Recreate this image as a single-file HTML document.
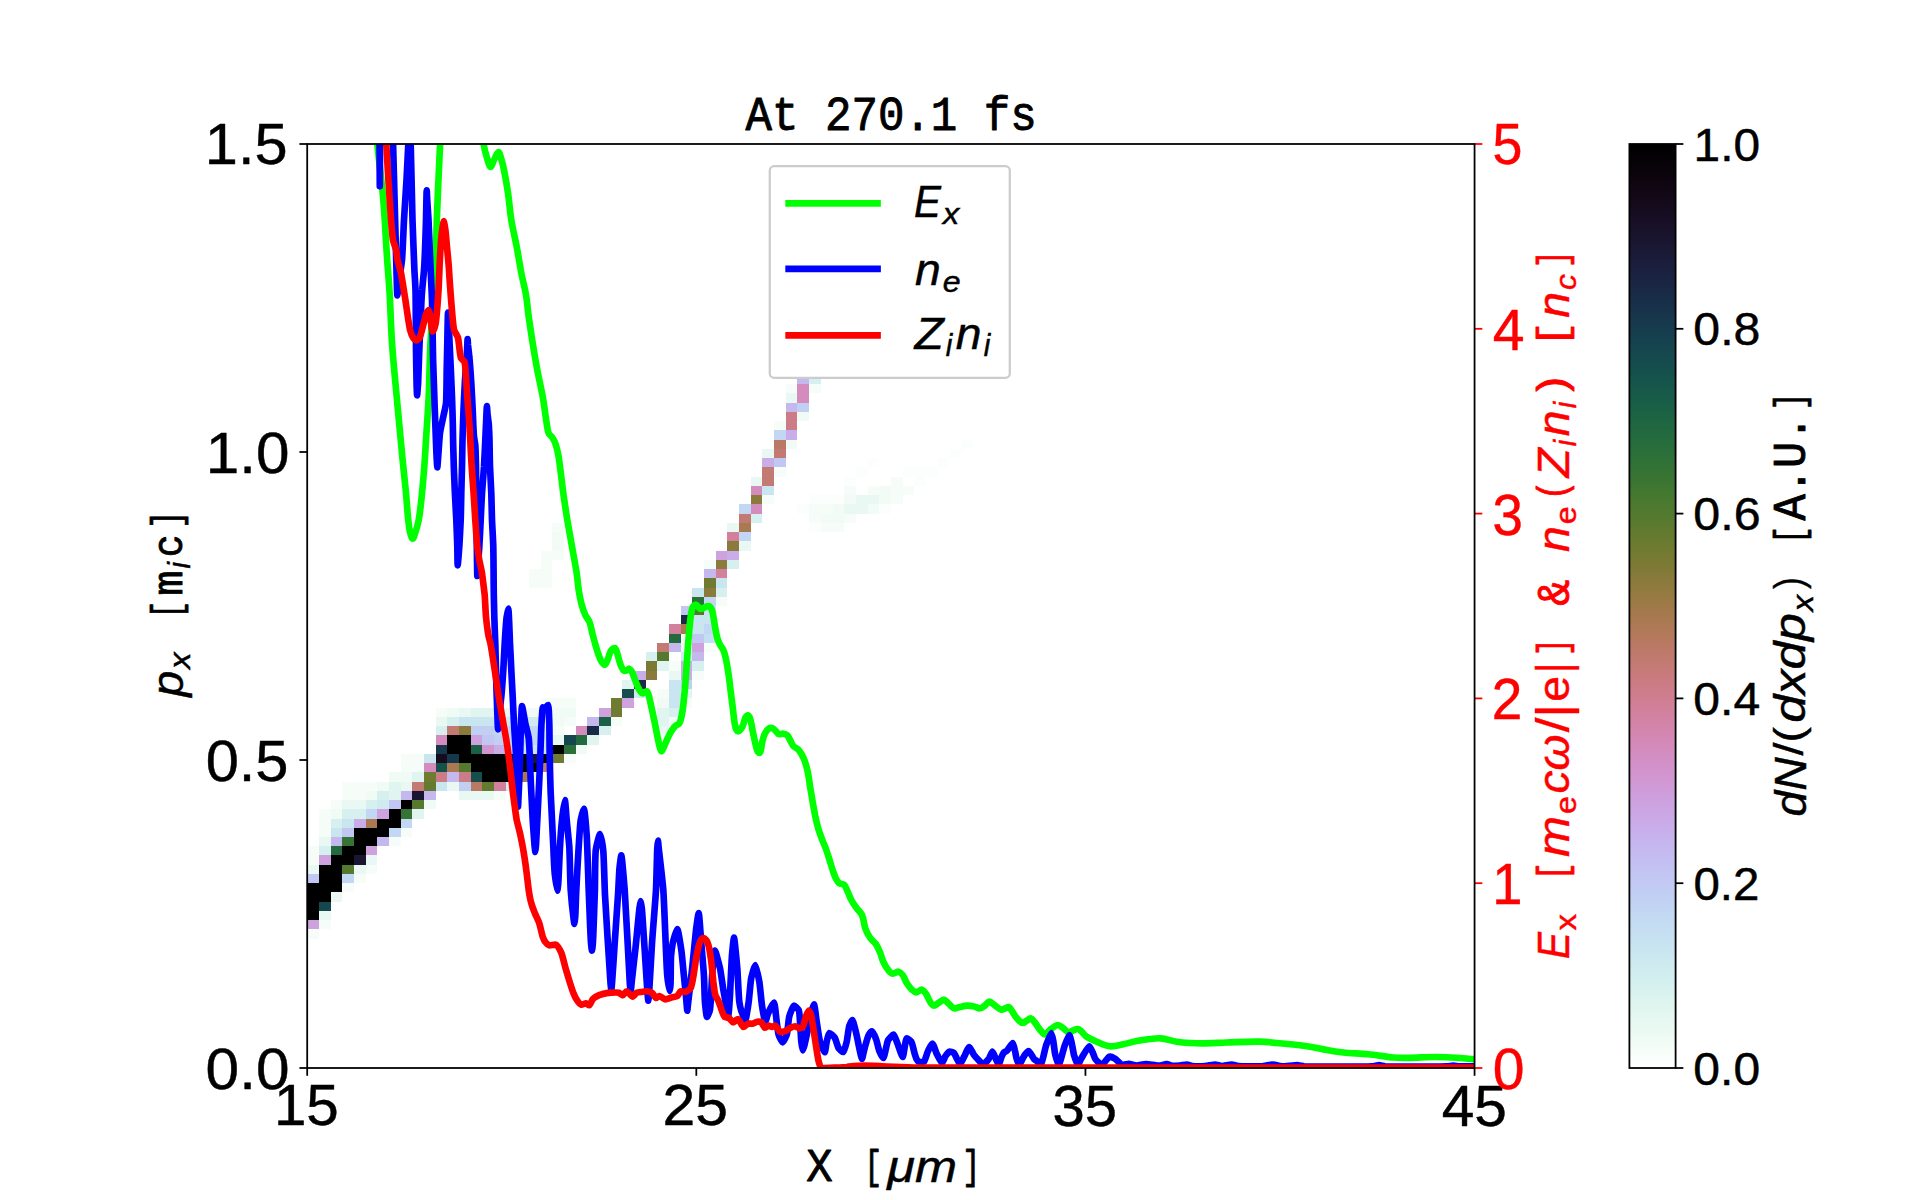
<!DOCTYPE html>
<html lang="en"><head><meta charset="utf-8"><title>At 270.1 fs</title>
<style>
html,body{margin:0;padding:0;background:#fff}
svg{display:block}
text{font-kerning:none;font-variant-ligatures:none;white-space:pre}
.sans{font-family:"Liberation Sans",sans-serif;stroke:currentColor;stroke-width:0.45px}
.sansi{font-family:"Liberation Sans",sans-serif;font-style:italic;stroke:currentColor;stroke-width:0.45px}
.mono{font-family:"Liberation Mono",monospace;stroke:currentColor;stroke-width:0.9px;stroke-linejoin:round}
</style></head>
<body>
<svg width="1920" height="1200" viewBox="0 0 1920 1200">
<defs>
<clipPath id="axclip"><rect x="307.2" y="144" width="1167.36" height="924"/></clipPath>
<linearGradient id="cbgrad" x1="0" y1="0" x2="0" y2="1"><stop offset="0" stop-color="#000000"/><stop offset="0.0156" stop-color="#050205"/><stop offset="0.0312" stop-color="#0b040c"/><stop offset="0.0469" stop-color="#100713"/><stop offset="0.0625" stop-color="#140a1b"/><stop offset="0.0781" stop-color="#170e23"/><stop offset="0.0938" stop-color="#19122b"/><stop offset="0.1094" stop-color="#1a1733"/><stop offset="0.125" stop-color="#1b1c3a"/><stop offset="0.1406" stop-color="#1a2240"/><stop offset="0.1562" stop-color="#192845"/><stop offset="0.1719" stop-color="#182f49"/><stop offset="0.1875" stop-color="#17364c"/><stop offset="0.2031" stop-color="#163d4e"/><stop offset="0.2188" stop-color="#15444f"/><stop offset="0.2344" stop-color="#154b4e"/><stop offset="0.25" stop-color="#15524c"/><stop offset="0.2656" stop-color="#17584a"/><stop offset="0.2812" stop-color="#195e47"/><stop offset="0.2969" stop-color="#1d6443"/><stop offset="0.3125" stop-color="#22693f"/><stop offset="0.3281" stop-color="#286d3b"/><stop offset="0.3438" stop-color="#2f7137"/><stop offset="0.3594" stop-color="#387434"/><stop offset="0.375" stop-color="#417731"/><stop offset="0.3906" stop-color="#4c792f"/><stop offset="0.4062" stop-color="#577a2f"/><stop offset="0.4219" stop-color="#637a2f"/><stop offset="0.4375" stop-color="#6f7b31"/><stop offset="0.4531" stop-color="#7b7a35"/><stop offset="0.4688" stop-color="#877a3a"/><stop offset="0.4844" stop-color="#937a40"/><stop offset="0.5" stop-color="#9f7948"/><stop offset="0.5156" stop-color="#a97951"/><stop offset="0.5312" stop-color="#b3795b"/><stop offset="0.5469" stop-color="#bc7967"/><stop offset="0.5625" stop-color="#c37a73"/><stop offset="0.5781" stop-color="#c97b7f"/><stop offset="0.5938" stop-color="#ce7d8c"/><stop offset="0.6094" stop-color="#d18099"/><stop offset="0.625" stop-color="#d383a6"/><stop offset="0.6406" stop-color="#d487b2"/><stop offset="0.6562" stop-color="#d48cbe"/><stop offset="0.6719" stop-color="#d391c9"/><stop offset="0.6875" stop-color="#d297d2"/><stop offset="0.7031" stop-color="#cf9ddb"/><stop offset="0.7188" stop-color="#cca4e2"/><stop offset="0.7344" stop-color="#caabe8"/><stop offset="0.75" stop-color="#c7b2ed"/><stop offset="0.7656" stop-color="#c5baf0"/><stop offset="0.7812" stop-color="#c3c1f2"/><stop offset="0.7969" stop-color="#c2c8f3"/><stop offset="0.8125" stop-color="#c1cff3"/><stop offset="0.8281" stop-color="#c2d6f3"/><stop offset="0.8438" stop-color="#c4dcf2"/><stop offset="0.8594" stop-color="#c6e1f1"/><stop offset="0.875" stop-color="#cae7f0"/><stop offset="0.8906" stop-color="#cfebef"/><stop offset="0.9062" stop-color="#d4efef"/><stop offset="0.9219" stop-color="#dbf3ef"/><stop offset="0.9375" stop-color="#e2f6f0"/><stop offset="0.9531" stop-color="#e9f8f2"/><stop offset="0.9688" stop-color="#f0fbf5"/><stop offset="0.9844" stop-color="#f8fdfa"/><stop offset="1" stop-color="#ffffff"/></linearGradient>
</defs>
<rect width="1920" height="1200" fill="#fff"/>
<g id="heatmap" shape-rendering="crispEdges">
<rect x="307" y="929" width="12" height="10" fill="#f6fcf8"/>
<rect x="307" y="920" width="12" height="9" fill="#cea1df"/>
<rect x="319" y="920" width="12" height="9" fill="#f6fcf8"/>
<rect x="307" y="911" width="12" height="9" fill="#000000"/>
<rect x="319" y="911" width="12" height="9" fill="#e9f8f2"/>
<rect x="307" y="902" width="12" height="9" fill="#000000"/>
<rect x="319" y="902" width="12" height="9" fill="#15474e"/>
<rect x="307" y="892" width="24" height="10" fill="#000000"/>
<rect x="331" y="892" width="11" height="10" fill="#e9f8f2"/>
<rect x="307" y="883" width="35" height="9" fill="#000000"/>
<rect x="342" y="883" width="12" height="9" fill="#f6fcf8"/>
<rect x="307" y="874" width="12" height="9" fill="#c2c6f3"/>
<rect x="319" y="874" width="23" height="9" fill="#000000"/>
<rect x="342" y="874" width="12" height="9" fill="#c2d7f3"/>
<rect x="354" y="874" width="12" height="9" fill="#f6fcf8"/>
<rect x="307" y="865" width="12" height="9" fill="#e9f8f2"/>
<rect x="319" y="865" width="23" height="9" fill="#000000"/>
<rect x="342" y="865" width="12" height="9" fill="#54792f"/>
<rect x="354" y="865" width="12" height="9" fill="#e9f8f2"/>
<rect x="366" y="865" width="11" height="9" fill="#f6fcf8"/>
<rect x="307" y="855" width="12" height="10" fill="#f6fcf8"/>
<rect x="319" y="855" width="12" height="10" fill="#cea1df"/>
<rect x="331" y="855" width="23" height="10" fill="#000000"/>
<rect x="354" y="855" width="12" height="10" fill="#1a1631"/>
<rect x="366" y="855" width="11" height="10" fill="#e9f8f2"/>
<rect x="307" y="846" width="12" height="9" fill="#f6fcf8"/>
<rect x="319" y="846" width="12" height="9" fill="#d6f0ef"/>
<rect x="331" y="846" width="11" height="9" fill="#236a3e"/>
<rect x="342" y="846" width="24" height="9" fill="#000000"/>
<rect x="366" y="846" width="11" height="9" fill="#cea1df"/>
<rect x="319" y="837" width="12" height="9" fill="#e9f8f2"/>
<rect x="331" y="837" width="11" height="9" fill="#c5b8ef"/>
<rect x="342" y="837" width="12" height="9" fill="#357435"/>
<rect x="354" y="837" width="23" height="9" fill="#000000"/>
<rect x="377" y="837" width="12" height="9" fill="#c5b8ef"/>
<rect x="389" y="837" width="12" height="9" fill="#f6fcf8"/>
<rect x="319" y="828" width="12" height="9" fill="#f6fcf8"/>
<rect x="331" y="828" width="11" height="9" fill="#c9e5f0"/>
<rect x="342" y="828" width="12" height="9" fill="#c2c6f3"/>
<rect x="354" y="828" width="35" height="9" fill="#000000"/>
<rect x="389" y="828" width="12" height="9" fill="#c2d7f3"/>
<rect x="401" y="828" width="11" height="9" fill="#f6fcf8"/>
<rect x="319" y="819" width="12" height="9" fill="#f6fcf8"/>
<rect x="331" y="819" width="11" height="9" fill="#d6f0ef"/>
<rect x="342" y="819" width="12" height="9" fill="#c9e5f0"/>
<rect x="354" y="819" width="12" height="9" fill="#c9ade9"/>
<rect x="366" y="819" width="11" height="9" fill="#a97951"/>
<rect x="377" y="819" width="24" height="9" fill="#000000"/>
<rect x="401" y="819" width="11" height="9" fill="#c2d7f3"/>
<rect x="319" y="809" width="12" height="10" fill="#f6fcf8"/>
<rect x="331" y="809" width="11" height="10" fill="#f0fbf5"/>
<rect x="342" y="809" width="24" height="10" fill="#d6f0ef"/>
<rect x="366" y="809" width="11" height="10" fill="#c2d7f3"/>
<rect x="377" y="809" width="12" height="10" fill="#cea1df"/>
<rect x="389" y="809" width="12" height="10" fill="#000000"/>
<rect x="401" y="809" width="11" height="10" fill="#357435"/>
<rect x="412" y="809" width="12" height="10" fill="#e0f5f0"/>
<rect x="331" y="800" width="11" height="9" fill="#f6fcf8"/>
<rect x="342" y="800" width="24" height="9" fill="#e9f8f2"/>
<rect x="366" y="800" width="11" height="9" fill="#d6f0ef"/>
<rect x="377" y="800" width="12" height="9" fill="#cfebef"/>
<rect x="389" y="800" width="12" height="9" fill="#c2c6f3"/>
<rect x="401" y="800" width="11" height="9" fill="#000000"/>
<rect x="412" y="800" width="12" height="9" fill="#54792f"/>
<rect x="424" y="800" width="12" height="9" fill="#f0fbf5"/>
<rect x="342" y="791" width="24" height="9" fill="#f6fcf8"/>
<rect x="366" y="791" width="11" height="9" fill="#f0fbf5"/>
<rect x="377" y="791" width="12" height="9" fill="#d6f0ef"/>
<rect x="389" y="791" width="12" height="9" fill="#e0f5f0"/>
<rect x="401" y="791" width="11" height="9" fill="#c5b8ef"/>
<rect x="412" y="791" width="12" height="9" fill="#1a1631"/>
<rect x="424" y="791" width="12" height="9" fill="#c5b8ef"/>
<rect x="459" y="791" width="35" height="9" fill="#e9f8f2"/>
<rect x="494" y="791" width="12" height="9" fill="#f6fcf8"/>
<rect x="342" y="782" width="35" height="9" fill="#f6fcf8"/>
<rect x="377" y="782" width="12" height="9" fill="#f0fbf5"/>
<rect x="389" y="782" width="12" height="9" fill="#e0f5f0"/>
<rect x="401" y="782" width="11" height="9" fill="#e9f8f2"/>
<rect x="412" y="782" width="12" height="9" fill="#c37a73"/>
<rect x="424" y="782" width="12" height="9" fill="#637a2f"/>
<rect x="436" y="782" width="11" height="9" fill="#c9e5f0"/>
<rect x="447" y="782" width="12" height="9" fill="#e9f8f2"/>
<rect x="459" y="782" width="12" height="9" fill="#c1cff3"/>
<rect x="471" y="782" width="11" height="9" fill="#b97964"/>
<rect x="482" y="782" width="12" height="9" fill="#637a2f"/>
<rect x="494" y="782" width="12" height="9" fill="#d2809c"/>
<rect x="506" y="782" width="11" height="9" fill="#d6f0ef"/>
<rect x="389" y="772" width="23" height="10" fill="#f0fbf5"/>
<rect x="412" y="772" width="12" height="10" fill="#e0f5f0"/>
<rect x="424" y="772" width="12" height="10" fill="#6f7b31"/>
<rect x="436" y="772" width="11" height="10" fill="#cc7c86"/>
<rect x="447" y="772" width="12" height="10" fill="#c5b8ef"/>
<rect x="459" y="772" width="12" height="10" fill="#cc7c86"/>
<rect x="471" y="772" width="11" height="10" fill="#154e4d"/>
<rect x="482" y="772" width="35" height="10" fill="#000000"/>
<rect x="517" y="772" width="12" height="10" fill="#a97951"/>
<rect x="529" y="772" width="12" height="10" fill="#e9f8f2"/>
<rect x="401" y="763" width="23" height="9" fill="#f6fcf8"/>
<rect x="424" y="763" width="12" height="9" fill="#d48cbe"/>
<rect x="436" y="763" width="11" height="9" fill="#15524c"/>
<rect x="447" y="763" width="12" height="9" fill="#a97951"/>
<rect x="459" y="763" width="12" height="9" fill="#54792f"/>
<rect x="471" y="763" width="70" height="9" fill="#000000"/>
<rect x="541" y="763" width="11" height="9" fill="#c37a73"/>
<rect x="401" y="754" width="23" height="9" fill="#f6fcf8"/>
<rect x="424" y="754" width="12" height="9" fill="#c9e5f0"/>
<rect x="436" y="754" width="11" height="9" fill="#160c1f"/>
<rect x="447" y="754" width="12" height="9" fill="#17374d"/>
<rect x="459" y="754" width="70" height="9" fill="#000000"/>
<rect x="529" y="754" width="12" height="9" fill="#1a1631"/>
<rect x="541" y="754" width="11" height="9" fill="#000000"/>
<rect x="552" y="754" width="12" height="9" fill="#6f7b31"/>
<rect x="564" y="754" width="12" height="9" fill="#f6fcf8"/>
<rect x="436" y="745" width="11" height="9" fill="#17374d"/>
<rect x="447" y="745" width="24" height="9" fill="#000000"/>
<rect x="471" y="745" width="11" height="9" fill="#1a6046"/>
<rect x="482" y="745" width="12" height="9" fill="#d295d0"/>
<rect x="494" y="745" width="12" height="9" fill="#c9ade9"/>
<rect x="506" y="745" width="11" height="9" fill="#c2c6f3"/>
<rect x="517" y="745" width="35" height="9" fill="#c9e5f0"/>
<rect x="552" y="745" width="12" height="9" fill="#000000"/>
<rect x="564" y="745" width="12" height="9" fill="#2b6f39"/>
<rect x="576" y="745" width="11" height="9" fill="#f0fbf5"/>
<rect x="436" y="735" width="11" height="10" fill="#d48cbe"/>
<rect x="447" y="735" width="24" height="10" fill="#000000"/>
<rect x="471" y="735" width="11" height="10" fill="#cea1df"/>
<rect x="482" y="735" width="12" height="10" fill="#c2c6f3"/>
<rect x="494" y="735" width="12" height="10" fill="#c1cff3"/>
<rect x="506" y="735" width="35" height="10" fill="#c2d7f3"/>
<rect x="541" y="735" width="11" height="10" fill="#c9e5f0"/>
<rect x="552" y="735" width="12" height="10" fill="#e9f8f2"/>
<rect x="564" y="735" width="12" height="10" fill="#15474e"/>
<rect x="576" y="735" width="11" height="10" fill="#236a3e"/>
<rect x="587" y="735" width="12" height="10" fill="#e0f5f0"/>
<rect x="657" y="735" width="12" height="10" fill="#f6fcf8"/>
<rect x="436" y="726" width="11" height="9" fill="#d6f0ef"/>
<rect x="447" y="726" width="12" height="9" fill="#c37a73"/>
<rect x="459" y="726" width="12" height="9" fill="#8a7a3b"/>
<rect x="471" y="726" width="23" height="9" fill="#c1cff3"/>
<rect x="494" y="726" width="47" height="9" fill="#c2d7f3"/>
<rect x="541" y="726" width="11" height="9" fill="#d6f0ef"/>
<rect x="552" y="726" width="12" height="9" fill="#f6fcf8"/>
<rect x="576" y="726" width="11" height="9" fill="#d48cbe"/>
<rect x="587" y="726" width="12" height="9" fill="#192a46"/>
<rect x="599" y="726" width="12" height="9" fill="#d6f0ef"/>
<rect x="657" y="726" width="12" height="9" fill="#e9f8f2"/>
<rect x="669" y="726" width="12" height="9" fill="#fbfefc"/>
<rect x="436" y="717" width="11" height="9" fill="#e9f8f2"/>
<rect x="447" y="717" width="12" height="9" fill="#d6f0ef"/>
<rect x="459" y="717" width="47" height="9" fill="#c9e5f0"/>
<rect x="506" y="717" width="35" height="9" fill="#cfebef"/>
<rect x="541" y="717" width="11" height="9" fill="#e9f8f2"/>
<rect x="552" y="717" width="12" height="9" fill="#f0fbf5"/>
<rect x="564" y="717" width="12" height="9" fill="#f6fcf8"/>
<rect x="587" y="717" width="12" height="9" fill="#c5b8ef"/>
<rect x="599" y="717" width="12" height="9" fill="#1a6046"/>
<rect x="611" y="717" width="11" height="9" fill="#f6fcf8"/>
<rect x="657" y="717" width="12" height="9" fill="#e0f5f0"/>
<rect x="669" y="717" width="12" height="9" fill="#f2fbf6"/>
<rect x="436" y="708" width="11" height="9" fill="#f6fcf8"/>
<rect x="447" y="708" width="12" height="9" fill="#f0fbf5"/>
<rect x="459" y="708" width="12" height="9" fill="#e9f8f2"/>
<rect x="471" y="708" width="23" height="9" fill="#e0f5f0"/>
<rect x="494" y="708" width="23" height="9" fill="#e9f8f2"/>
<rect x="517" y="708" width="59" height="9" fill="#f0fbf5"/>
<rect x="599" y="708" width="12" height="9" fill="#cea1df"/>
<rect x="611" y="708" width="11" height="9" fill="#6f7b31"/>
<rect x="657" y="708" width="12" height="9" fill="#e0f5f0"/>
<rect x="669" y="708" width="12" height="9" fill="#d6f0ef"/>
<rect x="541" y="698" width="35" height="10" fill="#f6fcf8"/>
<rect x="611" y="698" width="11" height="10" fill="#6f7b31"/>
<rect x="622" y="698" width="12" height="10" fill="#cea1df"/>
<rect x="657" y="698" width="12" height="10" fill="#f0fbf5"/>
<rect x="669" y="698" width="12" height="10" fill="#c9e5f0"/>
<rect x="681" y="698" width="11" height="10" fill="#f6fcf8"/>
<rect x="622" y="689" width="12" height="9" fill="#154e4d"/>
<rect x="634" y="689" width="12" height="9" fill="#cfebef"/>
<rect x="657" y="689" width="12" height="9" fill="#f6fcf8"/>
<rect x="669" y="689" width="12" height="9" fill="#c9e5f0"/>
<rect x="681" y="689" width="11" height="9" fill="#e0f5f0"/>
<rect x="622" y="680" width="12" height="9" fill="#e0f5f0"/>
<rect x="634" y="680" width="12" height="9" fill="#192a46"/>
<rect x="669" y="680" width="12" height="9" fill="#c9e5f0"/>
<rect x="681" y="680" width="11" height="9" fill="#c1cff3"/>
<rect x="634" y="671" width="12" height="9" fill="#c9ade9"/>
<rect x="646" y="671" width="11" height="9" fill="#8a7a3b"/>
<rect x="669" y="671" width="12" height="9" fill="#e9f8f2"/>
<rect x="681" y="671" width="11" height="9" fill="#c9ade9"/>
<rect x="692" y="671" width="12" height="9" fill="#f6fcf8"/>
<rect x="646" y="661" width="11" height="10" fill="#7b7a35"/>
<rect x="657" y="661" width="12" height="10" fill="#e0f5f0"/>
<rect x="669" y="661" width="12" height="10" fill="#f6fcf8"/>
<rect x="681" y="661" width="11" height="10" fill="#c9ade9"/>
<rect x="692" y="661" width="12" height="10" fill="#d6f0ef"/>
<rect x="646" y="652" width="11" height="9" fill="#d6f0ef"/>
<rect x="657" y="652" width="12" height="9" fill="#54792f"/>
<rect x="681" y="652" width="11" height="9" fill="#cfebef"/>
<rect x="692" y="652" width="12" height="9" fill="#c5b8ef"/>
<rect x="657" y="643" width="12" height="9" fill="#c37a73"/>
<rect x="669" y="643" width="12" height="9" fill="#c5b8ef"/>
<rect x="681" y="643" width="11" height="9" fill="#e9f8f2"/>
<rect x="692" y="643" width="12" height="9" fill="#cea1df"/>
<rect x="704" y="643" width="12" height="9" fill="#f6fcf8"/>
<rect x="669" y="634" width="12" height="9" fill="#236a3e"/>
<rect x="681" y="634" width="11" height="9" fill="#f6fcf8"/>
<rect x="692" y="634" width="12" height="9" fill="#c2c6f3"/>
<rect x="704" y="634" width="12" height="9" fill="#c5dff2"/>
<rect x="669" y="624" width="12" height="10" fill="#d2809c"/>
<rect x="681" y="624" width="11" height="10" fill="#a97951"/>
<rect x="692" y="624" width="12" height="10" fill="#c9e5f0"/>
<rect x="704" y="624" width="12" height="10" fill="#c2d7f3"/>
<rect x="681" y="615" width="11" height="9" fill="#192a46"/>
<rect x="692" y="615" width="24" height="9" fill="#c9e5f0"/>
<rect x="681" y="606" width="11" height="9" fill="#c2c6f3"/>
<rect x="692" y="606" width="12" height="9" fill="#54792f"/>
<rect x="704" y="606" width="12" height="9" fill="#c9e5f0"/>
<rect x="692" y="597" width="12" height="9" fill="#2b6f39"/>
<rect x="704" y="597" width="12" height="9" fill="#c2d7f3"/>
<rect x="716" y="597" width="11" height="9" fill="#f6fcf8"/>
<rect x="692" y="588" width="12" height="9" fill="#c9e5f0"/>
<rect x="704" y="588" width="12" height="9" fill="#8a7a3b"/>
<rect x="716" y="588" width="11" height="9" fill="#d6f0ef"/>
<rect x="529" y="578" width="23" height="10" fill="#f6fcf8"/>
<rect x="704" y="578" width="12" height="10" fill="#6f7b31"/>
<rect x="716" y="578" width="11" height="10" fill="#c9e5f0"/>
<rect x="529" y="569" width="23" height="9" fill="#f6fcf8"/>
<rect x="704" y="569" width="12" height="9" fill="#c5b8ef"/>
<rect x="716" y="569" width="11" height="9" fill="#d2809c"/>
<rect x="541" y="560" width="11" height="9" fill="#f6fcf8"/>
<rect x="704" y="560" width="12" height="9" fill="#f6fcf8"/>
<rect x="716" y="560" width="11" height="9" fill="#8a7a3b"/>
<rect x="727" y="560" width="12" height="9" fill="#d6f0ef"/>
<rect x="541" y="551" width="23" height="9" fill="#f6fcf8"/>
<rect x="716" y="551" width="11" height="9" fill="#cea1df"/>
<rect x="727" y="551" width="12" height="9" fill="#c9ade9"/>
<rect x="552" y="541" width="12" height="10" fill="#f2fbf6"/>
<rect x="727" y="541" width="12" height="10" fill="#8a7a3b"/>
<rect x="739" y="541" width="12" height="10" fill="#e9f8f2"/>
<rect x="552" y="532" width="12" height="9" fill="#f2fbf6"/>
<rect x="727" y="532" width="12" height="9" fill="#d2809c"/>
<rect x="739" y="532" width="12" height="9" fill="#c2d7f3"/>
<rect x="552" y="523" width="12" height="9" fill="#f6fcf8"/>
<rect x="727" y="523" width="12" height="9" fill="#e9f8f2"/>
<rect x="739" y="523" width="12" height="9" fill="#a97951"/>
<rect x="809" y="523" width="12" height="9" fill="#fbfefc"/>
<rect x="821" y="523" width="23" height="9" fill="#f6fcf8"/>
<rect x="739" y="514" width="12" height="9" fill="#c37a73"/>
<rect x="751" y="514" width="11" height="9" fill="#d6f0ef"/>
<rect x="809" y="514" width="12" height="9" fill="#f6fcf8"/>
<rect x="821" y="514" width="23" height="9" fill="#f2fbf6"/>
<rect x="844" y="514" width="12" height="9" fill="#f6fcf8"/>
<rect x="739" y="504" width="12" height="10" fill="#c2d7f3"/>
<rect x="751" y="504" width="11" height="10" fill="#d48cbe"/>
<rect x="797" y="504" width="12" height="10" fill="#fbfefc"/>
<rect x="809" y="504" width="24" height="10" fill="#f6fcf8"/>
<rect x="833" y="504" width="11" height="10" fill="#f2fbf6"/>
<rect x="844" y="504" width="24" height="10" fill="#e9f8f2"/>
<rect x="868" y="504" width="11" height="10" fill="#f2fbf6"/>
<rect x="879" y="504" width="12" height="10" fill="#fbfefc"/>
<rect x="751" y="495" width="11" height="9" fill="#8a7a3b"/>
<rect x="762" y="495" width="12" height="9" fill="#f6fcf8"/>
<rect x="809" y="495" width="35" height="9" fill="#fbfefc"/>
<rect x="844" y="495" width="12" height="9" fill="#f2fbf6"/>
<rect x="856" y="495" width="23" height="9" fill="#e9f8f2"/>
<rect x="879" y="495" width="12" height="9" fill="#f2fbf6"/>
<rect x="891" y="495" width="12" height="9" fill="#f6fcf8"/>
<rect x="751" y="486" width="11" height="9" fill="#d48cbe"/>
<rect x="762" y="486" width="12" height="9" fill="#c9e5f0"/>
<rect x="844" y="486" width="12" height="9" fill="#f6fcf8"/>
<rect x="868" y="486" width="11" height="9" fill="#f6fcf8"/>
<rect x="879" y="486" width="12" height="9" fill="#f2fbf6"/>
<rect x="891" y="486" width="23" height="9" fill="#f6fcf8"/>
<rect x="751" y="477" width="11" height="9" fill="#e9f8f2"/>
<rect x="762" y="477" width="12" height="9" fill="#c37a73"/>
<rect x="844" y="477" width="12" height="9" fill="#fbfefc"/>
<rect x="891" y="477" width="12" height="9" fill="#f6fcf8"/>
<rect x="914" y="477" width="12" height="9" fill="#fbfefc"/>
<rect x="762" y="467" width="12" height="10" fill="#c37a73"/>
<rect x="774" y="467" width="12" height="10" fill="#f6fcf8"/>
<rect x="856" y="467" width="12" height="10" fill="#fbfefc"/>
<rect x="903" y="467" width="35" height="10" fill="#fbfefc"/>
<rect x="762" y="458" width="12" height="9" fill="#c9ade9"/>
<rect x="774" y="458" width="12" height="9" fill="#c2c6f3"/>
<rect x="868" y="458" width="11" height="9" fill="#fbfefc"/>
<rect x="938" y="458" width="11" height="9" fill="#fbfefc"/>
<rect x="762" y="449" width="12" height="9" fill="#e9f8f2"/>
<rect x="774" y="449" width="12" height="9" fill="#c37a73"/>
<rect x="949" y="449" width="12" height="9" fill="#fbfefc"/>
<rect x="774" y="440" width="12" height="9" fill="#b97964"/>
<rect x="786" y="440" width="11" height="9" fill="#f0fbf5"/>
<rect x="961" y="440" width="12" height="9" fill="#fbfefc"/>
<rect x="774" y="430" width="12" height="10" fill="#c2d7f3"/>
<rect x="786" y="430" width="11" height="10" fill="#c9ade9"/>
<rect x="774" y="421" width="12" height="9" fill="#f6fcf8"/>
<rect x="786" y="421" width="11" height="9" fill="#cc7c86"/>
<rect x="786" y="412" width="11" height="9" fill="#cc7c86"/>
<rect x="797" y="412" width="12" height="9" fill="#f0fbf5"/>
<rect x="786" y="403" width="11" height="9" fill="#c5b8ef"/>
<rect x="797" y="403" width="12" height="9" fill="#c1cff3"/>
<rect x="786" y="393" width="11" height="10" fill="#e9f8f2"/>
<rect x="797" y="393" width="12" height="10" fill="#d48cbe"/>
<rect x="786" y="384" width="11" height="9" fill="#f6fcf8"/>
<rect x="797" y="384" width="12" height="9" fill="#d48cbe"/>
<rect x="809" y="384" width="12" height="9" fill="#f6fcf8"/>
<rect x="797" y="375" width="12" height="9" fill="#c5b8ef"/>
<rect x="809" y="375" width="12" height="9" fill="#d6f0ef"/>
</g>
<g id="axes-ticks" stroke="#000" stroke-width="1.78" fill="none">
<line x1="307.2" y1="1068" x2="307.2" y2="1075.78"/><line x1="696.32" y1="1068" x2="696.32" y2="1075.78"/><line x1="1085.44" y1="1068" x2="1085.44" y2="1075.78"/><line x1="1474.56" y1="1068" x2="1474.56" y2="1075.78"/><line x1="307.2" y1="1068" x2="299.42" y2="1068"/><line x1="307.2" y1="760" x2="299.42" y2="760"/><line x1="307.2" y1="452" x2="299.42" y2="452"/><line x1="307.2" y1="144" x2="299.42" y2="144"/>
</g>
<g id="colorbar">
<rect x="1629.4" y="144" width="46.2" height="924" fill="url(#cbgrad)"/>
<g stroke="#000" stroke-width="1.78" fill="none"><line x1="1675.6" y1="1068" x2="1683.38" y2="1068"/><line x1="1675.6" y1="883.2" x2="1683.38" y2="883.2"/><line x1="1675.6" y1="698.4" x2="1683.38" y2="698.4"/><line x1="1675.6" y1="513.6" x2="1683.38" y2="513.6"/><line x1="1675.6" y1="328.8" x2="1683.38" y2="328.8"/><line x1="1675.6" y1="144" x2="1683.38" y2="144"/><rect x="1629.4" y="144" width="46.2" height="924"/></g>
</g>
<g id="curves" clip-path="url(#axclip)" fill="none" stroke-width="6.67" stroke-linejoin="round" stroke-linecap="butt">
<path id="Ex" stroke="#0f0" d="M373.5 100C374.8 114.7 375.8 128.5 377.3 144C379 161.6 381.7 181 383.3 200C385 219.6 386 243 387.2 260C388.1 272.6 388.9 280.9 389.6 293C390.5 307.9 390.9 326 392 343C393.2 360.6 395.1 379.3 396.7 396.7C398.2 413.2 400 432.1 401.2 445C402 453.7 402.5 459.1 403.3 466.7C404.1 475.1 405.2 484.4 406 493.3C406.8 502.2 407.5 512.9 408.3 520C408.8 524.8 409.1 528.6 410 532C410.7 534.6 411.8 538.7 412.7 538.7C413.6 538.7 414.6 534.6 415.5 532C416.7 528.6 417.8 524.8 418.7 520C420.1 512.9 421.1 502.2 422 493.3C422.9 484.4 423.6 475.6 424.3 466.7C425 457.8 425.4 450 426 440C426.8 427.3 428 411.3 428.7 396.7C429.4 381.9 429.5 366.7 430.1 352C430.7 337.8 431.6 323.8 432.5 310C433.3 296.5 434.5 284.7 435.2 270C436.1 252 436.4 230.5 437.2 210C438 188.5 439.2 163.8 440.1 144C440.8 127.9 441.4 114.7 442 100 M480.5 100C481.5 114.7 482 133.5 483.6 144C484.5 150 485.7 153.9 487 158C488.1 161.4 489.5 167 490.7 167C491.8 167 492.7 162.4 494 160C495.4 157.4 497.5 151.9 498.7 152C499.7 152.1 500.3 155.8 501 158C501.8 160.6 502.5 163 503.3 166.7C504.7 173.1 506.7 184.2 508 193C509.3 201.9 509.9 211.1 511.3 220C512.8 229 515 237.8 516.7 246.7C518.4 255.5 519.7 264.6 521.3 273C522.8 280.7 524.8 287.7 526 295C527.2 302.2 527.7 309.1 528.7 316.7C529.9 325.1 531.3 334.4 532.7 343.3C534.1 352.2 535.6 361.1 537.3 370C539 378.9 541.1 387.8 542.7 396.7C544.3 405.6 545.5 416.6 546.7 423.3C547.4 427.4 547.5 430.9 548.7 433.3C549.5 435 551 435.5 552 437C553.2 438.8 554.4 440.9 555.3 443.3C556.4 446.2 557.2 449.7 558 453.3C558.9 457.4 559.3 461.5 560 466.7C561 474.1 562.1 484.4 563.3 493.3C564.5 502.2 565.9 511.1 567.3 520C568.8 528.9 570.4 537.8 572 546.7C573.6 555.6 575.5 565.4 576.7 573.3C577.6 579.5 577.9 584.8 578.7 590C579.4 594.7 580.2 599 581.3 603.3C582.4 607.4 583.8 611.7 585.3 615C586.6 617.7 588.4 619.3 589.5 622C590.9 625.4 591.5 630.1 592.5 634C593.5 637.8 594.5 641.5 595.5 645C596.4 648.2 597.3 651.2 598.3 654C599.3 656.6 600.2 659.6 601.5 661.5C602.5 662.9 603.7 664.8 604.7 664.7C605.8 664.6 606.7 661.8 607.5 660C608.5 657.9 609 654.7 610 652.7C610.7 651.2 611.6 649.8 612.5 649C613.2 648.4 614 647.8 614.7 648C615.6 648.3 616.3 650.7 617 652.5C617.9 654.8 618.5 658.2 619.3 660.7C620 663 620.6 665.2 621.5 667C622.2 668.5 623 670.2 624 670.7C624.7 671.1 625.7 670.8 626.5 670.5C627.4 670.2 628.5 668.6 629.3 668.7C630.1 668.8 630.9 670 631.5 671C632.3 672.2 632.6 673.5 633.3 675.3C634.5 678.3 636.6 684.4 638 687.3C638.9 689.1 639.6 690.4 640.5 691.5C641.2 692.3 641.9 693.2 642.7 693.3C643.4 693.4 644.3 692.3 645 692C645.6 691.7 646.2 691.1 646.7 691.3C647.4 691.5 648 693.2 648.5 694.5C649.2 696.2 649.4 698.1 650 700.7C651 705.2 652.7 713 654 719.3C655.4 725.8 656.9 734 658 739.3C658.8 742.8 659.3 745.8 660 748C660.5 749.4 660.9 751.3 661.5 751.3C662.1 751.3 662.8 749.3 663.5 748C664.4 746.3 665 744.3 666 742C667.4 738.9 669.5 734.2 671.3 731.3C672.6 729.2 673.8 727.4 675.3 726C676.5 724.8 678.3 724.7 679.3 723.3C680.8 721.3 681.2 717.8 682 714C683.2 708.1 683.9 699.2 684.7 691.3C685.5 682.8 686 673.7 686.7 664.7C687.4 655.5 688 645.2 688.7 636.7C689.3 629.5 689.9 622.1 690.7 616.7C691.3 613 691.6 609.4 692.7 607.3C693.4 606 694.4 604.8 695.3 604.7C696.2 604.6 697.2 605.8 698 606.5C698.8 607.2 699.2 608.4 700 608.7C700.7 609 701.7 608.7 702.5 608.5C703.3 608.3 703.8 607.7 704.7 607.3C705.8 606.8 707.6 605.8 708.7 606C709.6 606.2 710.4 607.1 711 608C711.7 609 712 610.3 712.5 612C713.3 615 713.9 620.4 714.7 624.7C715.5 629.1 716.2 634.4 717.3 638C718.1 640.7 719 642.6 720 644.7C721 646.6 722.4 647.9 723.3 650C724.5 652.6 725.2 655.8 726 659.3C727 663.9 727.9 670 728.7 675.3C729.5 680.6 730 686 730.7 691.3C731.4 696.6 732 702 732.7 707.3C733.4 712.6 733.9 719.2 734.7 723.3C735.2 725.9 735.5 728.1 736.3 729.5C736.8 730.4 737.3 731.2 738 731.3C738.7 731.4 739.8 730.3 740.5 729.5C741.4 728.6 742 727.5 742.7 726C743.7 723.9 744.4 719.8 745.3 718C745.8 717 746.3 716.2 746.8 715.8C747.2 715.5 747.6 715.2 748 715.3C748.5 715.4 749.1 716.3 749.5 717C750 718 750.3 719.1 750.7 720.7C751.5 723.7 752.3 729.5 753.3 734C754.3 738.8 755.7 745.6 756.7 748.7C757.2 750.2 757.4 751.3 758 752C758.4 752.5 758.9 753.1 759.3 753C759.8 752.9 760.4 751.6 760.8 750.5C761.4 748.8 761.4 745.8 762 743.3C762.7 740.4 763.4 736.6 764.7 734C765.8 731.9 767.2 729.6 768.7 728.7C769.7 728 770.9 727.7 772 728C773.4 728.3 774.8 730.2 776 731.3C777 732.2 777.6 733.6 778.7 734C779.9 734.5 781.8 733.5 783.3 733.7C784.7 733.9 786.2 734.4 787.3 735.3C788.5 736.4 789.1 738.3 790 740C791.1 741.9 791.8 744.3 793.3 746C794.7 747.7 797.1 748.2 798.7 750C800.7 752.2 802.4 755.5 803.8 758.7C805.4 762.3 806.5 766.4 807.5 770.7C808.7 775.6 809.2 781.4 810.1 786.7C811 792 811.9 797.5 812.8 802.7C813.7 807.7 814.5 812.8 815.5 817.3C816.3 821.2 817.1 824.5 818.1 828C819.2 831.6 820.5 835.3 821.8 838.7C823 841.9 824.4 844.9 825.6 848C826.7 851.1 827.7 854.1 828.7 857.3C829.8 860.7 830.9 864.6 832 868C833.1 871.2 834 874.6 835.3 877.3C836.5 879.6 837.7 882.1 839.3 883.3C840.7 884.3 842.7 883.7 844 884.7C845.5 885.9 846.2 888.5 847.3 890.7C848.6 893.4 849.7 897.1 851.3 900C852.8 902.8 854.7 905.5 856.5 908C858.3 910.5 860.6 912.1 862 915C863.8 918.6 863.8 924.3 865.3 928.3C866.6 931.8 868.1 935 870 937.7C871.7 940.2 874.3 941.9 876 944.3C877.7 946.7 878.8 949.5 880 952.3C881.3 955.3 881.9 958.8 883.3 961.7C884.6 964.5 886.2 967.6 888 969.7C889.4 971.4 890.9 973.4 892.7 973.7C894.5 974 897 971.4 898.7 971.7C900.3 972 901.5 973.5 902.7 975C904.3 977 905.1 980.5 906.7 983C908.2 985.4 910.2 988.1 912 989.7C913.3 990.9 914.5 992.2 916 992.3C917.8 992.4 920.3 989.4 922 989.7C923.6 990 924.8 992.1 926 993.7C927.3 995.5 928.2 998.4 929.3 1000.3C930.2 1001.9 931.1 1003.6 932 1004.5C932.6 1005.1 933.2 1005.7 934 1005.7C935.2 1005.7 936.9 1003.9 938.5 1003C940.2 1002 942.3 999.6 944 999.7C945.8 999.9 947.3 1002.6 949 1004C950.7 1005.4 952.1 1007.8 954 1008.3C955.8 1008.8 957.9 1007.4 960 1007C962.3 1006.5 964.9 1005.8 967.3 1005.7C969.6 1005.6 971.8 1006.1 974 1006.5C976.1 1006.9 978.1 1008.5 980 1008.3C981.8 1008.1 983.5 1006.6 985 1005.5C986.6 1004.4 987.7 1001.8 989.3 1001.7C991 1001.6 993.1 1004.2 995 1005.5C997 1006.9 999.4 1009.4 1001.3 1009.7C1002.6 1009.9 1003.8 1008.9 1005 1008.5C1006.2 1008 1007.6 1006.7 1008.7 1007C1010 1007.3 1010.9 1009.5 1012 1011C1013.2 1012.6 1014.1 1014.7 1015.3 1016.3C1016.4 1017.8 1017.7 1019.3 1019 1020.5C1020.2 1021.5 1021.4 1023 1022.7 1023C1024.1 1023 1025.6 1021.3 1027 1020.5C1028.3 1019.7 1029.5 1018.2 1030.7 1018.3C1032 1018.5 1033.3 1020.6 1034.5 1022C1035.8 1023.5 1036.8 1025.4 1038 1027C1039.1 1028.6 1040.3 1030.2 1041.5 1031.5C1042.5 1032.6 1043.4 1034.3 1044.7 1034.3C1046.4 1034.3 1048.8 1030.6 1051 1029C1053.2 1027.5 1055.9 1025 1058 1025C1059.8 1025 1061.3 1026.9 1063 1028C1064.9 1029.3 1066.9 1032.1 1068.7 1032.3C1070.2 1032.5 1071.5 1031 1073 1030.5C1074.6 1029.9 1076.5 1028.7 1078 1029C1079.5 1029.3 1080.7 1030.8 1082 1032C1083.4 1033.3 1084.2 1034.9 1086 1036.3C1088.6 1038.2 1092.9 1040.1 1096.7 1041.7C1100.8 1043.5 1105.5 1045.9 1110 1046.3C1114.4 1046.7 1118.9 1045.2 1123.3 1044.3C1127.8 1043.4 1132.2 1041.9 1136.7 1041C1141.1 1040.1 1145.8 1039.5 1150 1039C1153.8 1038.6 1156.8 1038 1160.7 1038.3C1165.5 1038.6 1171.6 1040.9 1176.7 1041.7C1181.3 1042.4 1185.7 1042.7 1190 1043C1194 1043.2 1197.1 1043.3 1201.7 1043.3C1208.5 1043.3 1217.8 1042.8 1226.7 1042.5C1237 1042.2 1249.7 1041.4 1260 1041.7C1268.9 1042 1276.7 1043 1285 1043.8C1293.3 1044.6 1302.5 1045.5 1310 1046.7C1316.1 1047.7 1321.1 1049 1326.7 1050C1332.2 1051 1337.2 1051.8 1343.3 1052.5C1350.8 1053.3 1360 1053.4 1368.3 1054.2C1376.6 1055 1385.8 1056.9 1393.3 1057.5C1399.4 1058 1403.9 1057.8 1410 1057.8C1417.5 1057.7 1426.7 1057 1435 1057C1443.3 1057 1453 1057.5 1460 1058C1465.1 1058.3 1469.3 1058.9 1473.3 1059.2C1476.5 1059.4 1479.1 1059.5 1482 1059.6"/>
<path id="ne" stroke="#00f" d="M379.3 100 L379.8 186.2 L380.3 100 M391.9 100C392.1 108.1 392.8 133.8 393.1 144C393.6 161.6 396.2 261.4 396.6 275C396.8 280.3 397.1 295.3 397.3 295.3C397.5 295.3 398.2 287.3 398.5 285C399 281.4 401.5 265.1 402 260C402.6 253.5 403.6 227.3 404 220C404.4 212.7 406.1 187.1 406.5 180C406.9 173.2 408 149.8 408.3 144C408.5 139.5 409.3 122 409.5 122C409.7 122 410.5 138.8 410.7 144C411.1 153.7 412.1 207.5 412.5 220C412.8 230.1 414.1 262.9 414.4 270C414.6 274.5 415.4 285.3 415.5 290C415.8 298.1 415.9 340.5 416 350C416.1 357.3 416.5 380.5 416.6 385C416.7 387.4 417 395.3 417.1 395.3C417.2 395.3 417.8 387.5 418 385C418.3 380.5 419 357 419.3 350C419.6 341.6 421.2 305.7 421.5 300C421.6 297.5 422 292.1 422.2 290C422.4 287 423.7 274.5 424 270C424.5 262.9 425.8 227.1 426 220C426.1 215.5 426.3 203 426.4 200C426.5 197.9 426.6 190.3 426.7 190.3C426.8 190.3 427.1 197.9 427.2 200C427.4 203 428.3 215.7 428.5 220C428.8 226.1 429.9 252.7 430.2 260C430.5 267.3 431.7 291.9 432 300C432.3 309.9 432.8 347.9 433.1 360C433.5 374.8 435.8 439.9 436.3 450C436.5 454.4 437.1 467.3 437.3 467.3C437.5 467.3 438.1 457.6 438.3 455C438.6 451.5 439.5 436.7 440 433C440.4 429.8 442.7 419.5 443.3 416.7C443.8 414.1 445.7 406.3 446 403.3C446.5 398.6 446.6 375.8 446.7 370C446.8 364.8 447.2 347.9 447.3 343.3C447.4 339.2 447.6 325.1 447.7 322C447.8 319.9 447.9 312.7 448 312.7C448.1 312.7 448.3 319.9 448.4 322C448.6 325.1 449.4 338.5 449.6 343.3C450 350.9 451.7 388.6 452 396.7C452.2 402.4 452.7 418.7 452.8 423.3C452.9 427.5 453.1 441 453.2 445C453.3 449 453.7 462.5 453.8 466.7C454 471.3 454.7 488.4 454.9 493.3C455.1 498.2 456.1 515.1 456.3 520C456.5 524.9 457.2 542.2 457.3 546.7C457.4 550.4 457.5 565.3 457.7 565.3C457.9 565.3 459 550.4 459.3 546.7C459.6 542.2 460.5 524.9 460.7 520C460.9 515.1 461.2 498.2 461.3 493.3C461.4 488.4 461.9 471.6 462 466.7C462.1 461.8 462.4 445 462.5 440C462.6 434.7 463.3 415.5 463.5 410C463.7 404.5 464.7 385.2 465 380C465.3 375.5 466.5 360.2 466.7 356.7C466.9 354.2 467.2 346.8 467.3 345C467.4 343.8 467.5 339.2 467.6 339.2C467.7 339.2 467.9 343.8 468 345C468.2 346.8 469.1 354.1 469.3 356.7C469.7 360.6 471 378.4 471.3 383.3C471.6 388.2 472.5 405.1 472.7 410C472.9 414.9 473.6 433.2 474 436.7C474.2 438.7 475.1 443.1 475.3 445C475.6 448 475.9 461.8 476 466.7C476.2 474.3 476.4 510.9 476.5 520C476.6 527.9 476.9 554.3 477 560C477.1 563.6 477.2 576 477.3 576C477.4 576 477.8 567.3 477.9 565C478.1 562.1 479.1 550.4 479.3 546.7C479.6 542.3 480.5 524.9 480.7 520C480.9 515.1 481.7 498.2 482 493.3C482.3 488.4 483.7 471.6 484 466.7C484.3 461.8 485.1 444.5 485.3 440C485.5 436.1 486 423.3 486.2 420C486.3 417.2 486.8 406 486.9 406C487 406 487.4 413.4 487.6 415C487.8 416.6 488.5 421.5 488.7 423.3C488.9 425.8 489.4 436.6 489.5 440C489.6 444.3 489.8 461.8 490 466.7C490.2 471.6 491.1 488.4 491.3 493.3C491.5 498.2 491.8 515.1 492 520C492.2 524.9 493.2 541.8 493.3 546.7C493.4 551.6 493.6 568.7 493.6 573.3C493.6 577.5 493.7 591 493.8 595C493.9 599 494.2 612.5 494.3 616.7C494.4 621.3 495.1 637.7 495.3 643.3C495.5 650.7 496.3 682.4 496.5 690C496.7 696.1 497.4 716.1 497.6 720C497.7 722.2 497.9 729.3 498 729.3C498.1 729.3 498.4 722.1 498.6 720C498.9 716.7 500.9 701.1 501.3 696.7C501.8 692 503 674.9 503.3 670C503.6 665.1 504.4 648.2 504.7 643.3C505 638.4 506.2 620.1 506.7 616.7C507 614.8 508.1 608.7 508.3 608.7C508.8 608.7 509.7 637.4 510 643.3C510.3 648.5 511.1 665.1 511.3 670C511.5 674.9 512.5 691.8 512.7 696.7C512.9 701.6 513.7 718.8 514 723.3C514.2 727.2 515.1 739.5 515.3 743.3C515.6 747.4 516.5 762.1 516.7 766.7C516.9 771.9 517.5 793 517.6 797C517.7 799.3 517.9 806.7 518 806.7C518.1 806.7 518.4 799 518.5 797C518.6 794.3 519.2 783.6 519.3 780C519.5 775.3 520.1 755.2 520.3 750C520.4 745.2 520.8 729.3 521 725C521.2 721.3 521.6 706 522 706C522.4 706 524.7 720.3 525.3 723.3C525.9 726.1 528.2 734.6 528.7 738C529.5 743.7 530.3 772.4 530.7 780C531.1 787.4 532.3 813.5 532.7 820C533 825.1 534.2 841.8 534.5 845C534.7 846.7 535.2 852 535.3 852C535.4 852 535.9 846.7 536 845C536.2 841.8 537 825.1 537.3 820C537.6 813.5 539 786.8 539.3 780C539.6 774.1 540.3 755.3 540.5 750C540.7 745 541.2 727.6 541.5 723.3C541.7 720 542.4 707.4 542.9 707.3C543.1 707.3 543.7 709 544 709C544.5 709.1 547.5 704.8 548 705C548.9 705.3 549.1 719.6 549.3 723.3C549.5 727.7 549.5 745.5 549.6 750C549.7 753.9 549.9 766.2 550 770C550.1 774.1 550.5 788.9 550.7 793.3C550.9 798 551.8 815.1 552 820C552.2 824.9 553.1 841.8 553.3 846.7C553.5 851.6 554.3 868.9 554.7 873.3C555.1 876.8 557 890.7 557.3 890.7C557.5 890.7 558 885.7 558.2 884C558.6 879.9 559.6 853 560 846.7C560.3 841.4 561.5 824.5 562 820C562.4 816.1 564.5 800.2 564.9 800.2C565.3 800.2 566.3 816.1 566.7 820C567.1 824.5 568.9 841.2 569.3 846.7C569.8 853.7 570.2 882.9 570.7 890C571.1 895.7 573.1 914.8 573.5 918C573.7 919.5 574.2 924 574.4 924C574.6 924 575.1 918.7 575.2 917C575.5 913.7 576 895.5 576.3 890C576.6 883 578.2 853.7 578.7 846.7C579.1 841.2 580 823.8 580.7 820C581.2 817.5 583.5 808.7 584 808.7C584.7 808.8 586.3 829.3 586.7 835C587.3 843.2 588.3 880 588.7 890C589.1 899.8 590.5 937.6 591 943C591.2 945 591.8 950.7 592 950.7C592.2 950.7 592.7 945 592.9 943C593.3 937.6 594.6 899 594.9 890C595.1 882.2 595 855.6 595.8 850C596.3 846.4 599.3 834 600 834C600.7 834 602.8 846.3 603.2 850C603.9 856.1 604.5 885.4 605 895C605.7 908.5 609.9 975.9 610.5 983C610.7 985 611.2 990 611.3 990C611.5 990 611.9 984 612.1 982C612.5 977.6 614.2 950.8 614.7 943.3C615.3 934.9 617.5 902.6 618 895C618.4 889.3 619.1 872 619.5 868C619.8 865.2 621 855.3 621.3 855.3C621.9 855.3 624.1 882.1 624.7 890C625.7 902.9 629.2 975.3 629.8 983C630 985.3 630.5 991 630.7 991C630.9 991 631.4 985 631.6 983C632 979 634.6 956.4 635.3 950C636.1 942.8 638.9 912.5 639.5 908C639.7 906.2 640.5 901 640.7 901C640.9 901 641.6 906 641.8 908C642.6 914.9 646.9 985.8 647.5 993C647.7 995.2 648.2 1000.7 648.3 1000.7C648.4 1000.7 648.9 995 649.1 993C649.5 987.9 651.4 952.6 652 943.3C652.6 933.7 655.5 899.2 656 890C656.4 881.8 657 852.5 657.3 848C657.4 846.1 657.9 840.7 658 840.7C658.1 840.7 658.5 846.1 658.7 848C659.2 852.5 662.6 880.9 663.3 890C664.3 902.9 666.3 965.6 667.2 975C667.6 979.1 669.2 991 669.5 991C669.7 991 670.4 986.5 670.5 985C670.8 981.7 670.7 960.9 671 956.7C671.2 953.8 672.2 945.8 672.7 943.3C673.3 940.7 676.6 929 677.3 929C678.2 929.1 680.7 945.9 681.3 950C682 954.6 683.5 972.2 684 976.7C684.4 980.6 685.7 993.4 686 996.7C686.3 999.5 687.1 1010.7 687.3 1010.7C687.4 1010.7 687.8 1005.7 688 1004C688.4 1000.2 691.3 976.5 692 970C692.8 963 695.3 935.8 696 930C696.5 926.2 698.3 913 698.7 913C699.3 913 700.8 937.6 701.3 943.3C701.8 949.3 703.7 970.9 704 976.7C704.3 981.8 704.6 998.9 705 1003C705.3 1006 706.4 1016.9 707 1017C707.4 1017.1 709.5 1011.9 709.9 1010C710.9 1005.7 711.9 976 712.5 970C712.9 965.8 714.2 950.6 714.9 950.5C715.6 950.4 719.2 964.9 720 968.3C720.8 972 722.7 985.9 723.3 989.7C723.9 993.2 726.2 1005.5 726.7 1008.3C727 1010.3 727.8 1017.7 728 1017.7C728.2 1017.7 728.8 1011.6 729 1010C729.2 1007.7 729.8 998.4 730 995C730.3 989.4 731.5 960.8 732 955C732.3 951.2 733.6 937.7 734 937.7C734.5 937.7 736.8 962.6 737.3 968.3C737.8 974.3 738.7 997.5 739.3 1001.7C739.6 1003.9 740.8 1009.3 741.3 1011C741.9 1012.7 744.7 1020.4 745.3 1020.3C746.1 1020.2 748.2 1005.3 748.7 1001.7C749.3 997.6 750.5 981.4 751.3 977.7C751.9 975 754.6 965 755.3 965C756.1 965 758.7 978.3 759.3 981.7C760 985.7 761.4 1001.8 762 1005.7C762.5 1008.9 764.6 1021.7 765.3 1021.7C765.8 1021.7 767.3 1015.3 768 1013.7C768.8 1011.8 773.2 1002.5 774 1002.6C775 1002.8 776.2 1018.5 776.7 1021.7C777.1 1024.4 778 1033 778.7 1035C779.2 1036.6 782 1042.3 782.7 1042.3C783.4 1042.3 786.1 1036.7 786.7 1035C787.6 1032.4 788.5 1019.2 789.3 1016.3C789.9 1014 793 1005.9 794 1005.7C794.8 1005.5 798.1 1008.9 798.7 1010C799.5 1011.5 799.8 1019.3 800 1021.7C800.3 1024.9 801 1038.8 801.3 1041.7C801.5 1043.6 802.4 1050.3 802.7 1050.3C803 1050.3 804.2 1046.1 804.5 1045C804.9 1043.5 806.2 1037.2 806.7 1035C807.3 1032 809.9 1018.1 810.7 1015C811.3 1012.7 813.5 1004.3 814 1004.3C814.6 1004.3 816.2 1018.4 816.7 1021.7C817.3 1025.2 819.1 1038.7 820 1041.7C820.7 1044 824.1 1052.4 824.7 1052.3C825.3 1052.2 826.3 1043.5 826.7 1041.7C827.1 1040 828.5 1033.2 829.3 1033C830 1032.8 833.9 1036.5 834.7 1037.7C835.7 1039.2 837.7 1046.9 838.7 1048.3C839.4 1049.3 842.6 1052.2 843.3 1052C844.2 1051.7 846.2 1043.8 846.7 1041.7C847.3 1039.1 848.6 1027.8 849.3 1025.7C849.8 1024.3 851.9 1019.9 852.4 1020C853.1 1020.1 855.4 1029.9 856 1032.3C856.7 1035 858.7 1045.7 859.3 1048.3C859.8 1050.5 861.6 1059 862 1059C862.3 1059 863.2 1054.2 863.5 1053C863.8 1051.7 864.9 1047.2 865.3 1045.7C865.8 1043.9 867.9 1036.4 868.7 1035C869.2 1034.1 871.4 1031.2 872 1031.3C872.8 1031.4 875.4 1037.4 876 1039C876.8 1040.9 878.5 1049.1 879.3 1051C879.9 1052.5 882.7 1058.1 883.3 1058C884 1057.9 885.6 1050 886 1048.3C886.4 1046.8 887.3 1041.6 888 1040.3C888.7 1039.1 892.8 1034.4 893.6 1034.6C894.5 1034.8 896.6 1041.3 897.3 1043C898.2 1045.2 901.9 1057.1 902.7 1057C903.6 1056.9 905.4 1038.8 906.7 1038.3C907.4 1038 910.6 1040.7 911.3 1041.7C912.3 1043.1 914.1 1051.9 914.7 1053.7C915.1 1055 916.3 1058.7 916.8 1059.5C917.1 1060 918.2 1061.5 918.7 1061.7C919.4 1062 923.2 1062.2 924 1061.7C925.1 1060.9 927.1 1052.7 928 1051C928.7 1049.5 931.7 1043.6 932.5 1043.7C933.4 1043.8 935.8 1051.9 936.7 1053.7C937.6 1055.5 941.1 1063 942 1063C942.7 1063 944.8 1057.1 945.5 1056C946.1 1055.1 948.5 1051.9 949.3 1051.7C950.1 1051.5 953.3 1052.4 954 1053C954.8 1053.7 956.4 1058 957 1059C957.5 1060 959.4 1064 960 1064C960.7 1064 963.2 1058.4 964 1057C964.9 1055.3 968.3 1047 969.3 1047C970.2 1047 972.9 1053.6 974 1055C975.3 1056.7 981.8 1064 983.3 1064C984.4 1064 987.9 1060.1 988.7 1059C989.6 1057.9 991.8 1051.7 992.4 1051.7C993 1051.7 994.9 1056.8 995.5 1058C996.1 1059.2 998.2 1064.5 998.7 1064.5C999.3 1064.5 1001 1058.2 1001.5 1057C1001.9 1056 1003.4 1052.9 1004 1052.3C1004.4 1051.9 1006.2 1051.4 1006.7 1051C1007.7 1050.2 1012 1042.9 1012.7 1043C1013.3 1043.1 1014.5 1048.6 1014.8 1050C1015.2 1051.5 1016.2 1057.5 1016.7 1059C1017.1 1060.2 1018.8 1065 1019.3 1065C1019.8 1065 1021.5 1060.9 1022 1060C1022.5 1059.1 1024.1 1055.8 1024.7 1055C1025.3 1054.2 1028 1050.9 1028.7 1051C1029.7 1051.1 1033.1 1058.1 1034 1059C1034.5 1059.6 1036.2 1060.5 1036.7 1061C1037.4 1061.6 1040.1 1065.1 1040.7 1065C1041.3 1064.8 1042.6 1059.5 1043 1058C1043.6 1056.1 1045.3 1047.9 1046 1045.7C1046.8 1043.4 1050.6 1032.9 1051.3 1033C1051.8 1033 1053 1039.3 1053.3 1041C1053.7 1043.2 1054.7 1052.7 1055.3 1055C1055.8 1057 1058.1 1065 1058.7 1065C1059.2 1065 1061 1058.6 1061.5 1057C1062.1 1055.1 1064 1047.7 1064.7 1045.7C1065.4 1043.7 1068.6 1035 1069.3 1035C1069.8 1035 1071.1 1040.5 1071.5 1042C1072 1044 1073.4 1052.8 1074 1055C1074.6 1057 1077.3 1065 1078 1065C1078.5 1065 1080 1060.9 1080.5 1060C1081 1059.1 1082.7 1056 1083.3 1055C1084.2 1053.6 1088.4 1046.3 1089.3 1046.3C1090 1046.3 1092 1050.9 1092.5 1052C1093.1 1053.2 1094.5 1057.8 1095.3 1059C1096.2 1060.3 1100.8 1065.1 1102 1065C1103.3 1064.9 1107.9 1057.2 1109.3 1056.8C1110.3 1056.5 1113.7 1057.9 1114.7 1058.5C1116 1059.2 1120.6 1064.4 1122 1064.8C1123.2 1065.1 1127.4 1063.8 1128.7 1063.8C1130.1 1063.8 1135.2 1065.5 1136.7 1065.5C1138.3 1065.5 1144.1 1064 1146 1064C1148.2 1064 1157.2 1065.8 1159.3 1065.7C1160.9 1065.6 1165.5 1064 1166.7 1064.1C1167.8 1064.2 1170.9 1065.7 1172 1065.8C1173.3 1066 1178.6 1065.6 1180 1065.5C1181.3 1065.4 1185.6 1064.4 1186.7 1064.5C1187.7 1064.6 1190.8 1065.8 1192 1066C1193.8 1066.3 1202.8 1066.3 1205 1066.1C1207 1066 1213.3 1064.5 1215 1064.5C1216.4 1064.5 1220.6 1066 1222 1066C1223.6 1066 1230.1 1064.4 1231.7 1064.5C1233 1064.6 1236.5 1065.9 1238 1066.1C1241 1066.5 1258.8 1066.5 1262 1066.2C1263.9 1066 1268.7 1064.9 1270 1064.8C1271 1064.7 1274 1064.7 1275 1064.8C1276.1 1064.9 1279.6 1066.1 1281 1066.2C1283.3 1066.4 1296 1065 1298.3 1065.2C1299.6 1065.3 1302.4 1066.1 1304 1066.3C1309.6 1066.8 1365.9 1066.8 1372 1066.3C1374 1066.1 1378 1065.1 1379.2 1065.1C1380.3 1065.1 1383.4 1066.1 1385 1066.3C1390.3 1066.8 1441.5 1066.6 1447 1066.3C1448.8 1066.2 1452.2 1065.7 1453.3 1065.7C1454.4 1065.7 1457.6 1066.2 1459 1066.3C1461.8 1066.4 1477.8 1066.3 1482 1066.3"/>
<path id="Zini" stroke="#f00" d="M384.5 100C384.9 108.8 385.8 134.7 386.3 144C386.8 154.5 389 189.7 389.7 200C390.3 208.7 391.9 234.7 393 240C393.5 242.7 395.7 248 396.2 250C396.6 252 397.1 257.9 397.5 260C398 262.4 400.3 269.9 401 273C401.9 277.4 404.5 294.5 405.4 300C406.3 305.8 409 326 410.1 330C410.6 332 412.2 336.4 413 337.5C413.6 338.3 415.6 340.5 416.3 340.5C416.9 340.5 419 338.8 419.5 338C420.2 336.9 421.5 331.7 422 330C422.5 328.1 424 321.8 424.5 320C424.9 318.5 426 314.1 426.5 313C426.9 312.3 428.2 310 428.6 310.1C429.1 310.2 430.2 316.2 430.5 318C430.9 320.3 431.8 331.4 432.4 331.5C432.7 331.6 434.2 328.8 434.5 328C434.9 327 435.6 323.9 435.8 322.5C436.2 320.2 437 310.8 437.3 307.5C437.6 303.5 438.6 289.4 438.8 285C439 280.9 439.4 269 439.6 265C439.8 261 440.5 248.7 440.8 245C441 241.8 441.8 232.6 442.2 230C442.5 228 443.5 221.2 443.8 221.2C444.1 221.2 445.1 228 445.4 230C445.8 232.6 446.5 241.9 446.8 245C447.1 248.3 448.1 258.6 448.4 262C448.7 265.2 449.3 274.5 449.5 278C449.8 282.1 450.7 295.3 451.1 300C451.6 305.5 453 326.1 454.1 330C454.7 332.1 457.3 335.6 457.9 337.5C458.9 340.5 459.8 355.6 460.9 358C461.5 359.2 464 361 464.5 362C465.1 363.3 465.3 367.9 465.5 370C465.9 373.8 466.9 391.4 467.3 396.7C467.7 402 469 418.2 469.3 423.3C469.6 427.9 470.3 440.7 470.5 445C470.7 449.3 471.4 462.1 471.7 466.7C472 471.8 473.2 488 473.6 493.3C474 498.6 474.9 514.7 475.3 520C475.7 525.3 476.8 542.3 477.3 546.7C477.7 549.8 478.8 557.3 479.3 560C479.8 562.7 481.6 570.6 482 573.3C482.4 576 483.4 584.3 483.7 586.7C483.9 588.6 484.5 592.9 484.7 595C485 598.3 485.6 612.5 486 616.7C486.4 620.8 488.1 633.8 488.7 636.7C489 638.4 490 641.5 490.4 643.3C491.1 646.8 493.9 664.7 494.7 670C495.5 675.3 498 692.3 498.7 696.7C499.2 699.8 500.5 707.3 501 710C501.5 712.7 502.8 720.6 503.3 723.3C503.8 726.2 505.4 734.6 506 738C506.8 742.8 509.3 761.1 510 766.7C510.7 772.1 512.3 788 513 793.3C513.7 798.6 515.9 815.6 516.7 820C517.3 823.1 519.4 830.6 520 833.3C520.6 836 522.1 843.6 522.7 846.7C523.5 851.1 526.1 868.6 526.7 873.3C527.2 877 528.2 886.9 528.7 890C529.1 892.8 530.6 900.9 531.3 903.3C531.9 905.4 533.9 910.8 534.7 912.7C535.5 914.8 538.5 921 539.3 923.3C540.2 925.8 541.9 934.7 542.7 936.7C543.2 938 544.6 941.1 545.3 942C545.9 942.8 548.3 945 549.3 945.3C550.4 945.6 554.9 944.2 556 944.7C557.4 945.4 560.4 950.8 561.3 952.7C562.4 955.1 564.5 964.4 565.3 967.3C566.1 970 568.5 978.1 569.3 980.7C570.1 983.2 572.4 990.6 573.3 992.7C574 994.5 576.4 999.4 577.3 1000.7C578 1001.7 580.4 1004.5 581.3 1004.7C582.1 1004.9 585.2 1003.2 586 1003.3C586.7 1003.4 588.7 1005.5 589.3 1005.3C590.1 1005.1 591.9 1000.2 592.7 999.3C593.3 998.6 595.2 997.2 596 996.7C597.1 996.1 601.3 994.4 602.7 994C604.2 993.6 609.1 992.8 610.7 992.7C612.3 992.6 617.4 992.3 618.7 992.7C619.7 993 621.9 995.4 622.7 995.3C623.5 995.2 625.8 991.3 626.7 991.3C627.8 991.3 631.6 996.7 632.7 996.7C633.6 996.7 635.8 993.2 636.7 992.7C637.5 992.3 640.3 992.1 641.3 992C642.3 991.9 645.6 991.2 646.7 991.3C647.8 991.4 651.1 992.1 652 992.7C653 993.4 655.2 997.8 656 998C656.6 998.1 658.5 996 659.3 996C660.3 996 664 999.2 665.3 999.3C666.6 999.4 670.7 997.6 672 997.3C673.1 997 676.4 996.6 677.3 996C678.2 995.4 679.8 991.7 680.7 991.3C681.5 991 684.4 992.2 685.3 992C686.4 991.7 689.9 989.2 690.7 988C691.7 986.4 692.8 979.2 693.3 976.7C693.9 973.6 695.4 962.5 696 959.3C696.5 956.5 698.1 948.2 698.7 946C699.2 944.4 700.7 940.1 701.3 939.3C701.7 938.9 702.9 938 703.3 938C703.9 938 706.1 939.9 706.7 940.7C707.5 941.8 708.9 946.9 709.3 948.7C709.8 951 710.9 958.8 711.3 961.7C711.8 965.3 712.9 978.1 713.3 981.7C713.7 984.6 714.6 992.8 715.3 995C715.8 996.6 718.1 1000.2 718.7 1001.7C719.4 1003.4 721.3 1009.4 722 1011C722.5 1012.3 723.9 1016.4 724.7 1017C725.3 1017.5 727.9 1017.3 728.7 1017.7C729.7 1018.2 732.3 1022.2 733.3 1022.3C734.2 1022.4 737.1 1018.8 738 1019C739.1 1019.2 742.2 1026.8 743.3 1027C744.2 1027.2 747 1024 748 1023.7C748.9 1023.4 751.8 1023.9 752.7 1023.7C753.6 1023.5 756.4 1021.8 757.3 1021.7C758.1 1021.6 760.6 1021.9 761.3 1022.3C762.2 1022.9 763.9 1027.5 764.7 1027.7C765.4 1027.9 767.9 1025.7 768.7 1025.7C769.4 1025.7 771.3 1027 772 1027C772.7 1027 774.6 1025.5 775.3 1025.7C776.3 1026 778.9 1031.2 780 1031.7C780.9 1032.1 784.3 1031.4 785.3 1031C786.4 1030.6 789.6 1028.2 790.7 1027.7C791.6 1027.3 794.4 1026.2 795.3 1026.3C796.1 1026.4 798.5 1028.3 799.3 1028.3C800 1028.3 802.1 1027.6 802.7 1027C803.7 1025.9 805.3 1018.1 806 1016.3C806.5 1015 808.2 1010.6 808.7 1010.6C809.1 1010.6 810.3 1012.8 810.7 1013.7C811.4 1015.5 812.8 1025.2 813.3 1028.3C813.9 1031.6 815.4 1042.3 816 1045.7C816.5 1049 818.2 1059.6 818.7 1061.7C819 1062.8 819.7 1065.1 820 1065.7C820.3 1066.2 820.9 1067.3 821.5 1067.6C822.8 1068.2 832.4 1067.7 835 1067.6C837.4 1067.5 844.7 1067.2 846.7 1067C848.2 1066.8 851.6 1066.1 853.3 1066C856.2 1065.8 869.7 1065.7 873.3 1065.8C876.2 1065.9 883.6 1066.5 886.7 1066.6C891.1 1066.8 906.5 1067.4 913.3 1067.5C925.7 1067.7 975.6 1067.6 1000 1067.6C1057.4 1067.6 1385.6 1067.6 1482 1067.6"/>
</g>
<g id="right-ticks" stroke="#f00" stroke-width="1.78"><line x1="1474.56" y1="1068" x2="1482.34" y2="1068"/><line x1="1474.56" y1="883.2" x2="1482.34" y2="883.2"/><line x1="1474.56" y1="698.4" x2="1482.34" y2="698.4"/><line x1="1474.56" y1="513.6" x2="1482.34" y2="513.6"/><line x1="1474.56" y1="328.8" x2="1482.34" y2="328.8"/><line x1="1474.56" y1="144" x2="1482.34" y2="144"/></g>
<rect id="frame" x="307.2" y="144" width="1167.36" height="924" fill="none" stroke="#000" stroke-width="1.78"/>
<g id="legend">
<rect x="769.77" y="166.22" width="240.03" height="211.6" rx="4.4" ry="4.4" fill="#fff" stroke="#ccc" stroke-width="2.22"/>
<line x1="788.64" y1="203.44" x2="877.53" y2="203.44" stroke="#0f0" stroke-width="6.67" stroke-linecap="square"/>
<line x1="788.64" y1="268.87" x2="877.53" y2="268.87" stroke="#00f" stroke-width="6.67" stroke-linecap="square"/>
<line x1="788.64" y1="335.29" x2="877.53" y2="335.29" stroke="#f00" stroke-width="6.67" stroke-linecap="square"/>
</g>
<g id="labels">
<g id="title" fill="#000" color="#000"><text class="mono" font-size="47.55" transform="translate(745.51,130.44) scale(0.9283,1)">At 270.1 fs</text></g>
<g id="xlabel" fill="#000" color="#000"><text class="mono" font-size="46.23" transform="translate(806.35,1181.18) scale(0.9498,1)">X</text><text class="mono" font-size="40.42" transform="translate(864.33,1178.65) scale(0.7458,1)">[</text><text class="sansi" font-size="44.74" transform="translate(887.36,1182.07) scale(1.1288,1)">μm</text><text class="mono" font-size="40.42" transform="translate(962.3,1178.65) scale(0.7458,1)">]</text></g>
<g id="ylabel" fill="#000" color="#000" transform="translate(183.32,698.1) rotate(-90)"><text class="sansi" font-size="43.77" transform="translate(1.38,-0.75) scale(1.0657,1)">p</text><text class="sansi" font-size="29.36" transform="translate(29.11,6.31) scale(1.123,1)">x</text><text class="mono" font-size="40.42" transform="translate(79.26,-3.67) scale(0.7458,1)">[</text><text class="mono" font-size="42.64" transform="translate(102.37,-1.14) scale(0.9896,1)">m</text><text class="sansi" font-size="30.55" transform="translate(129.65,6.31) scale(0.9594,1)">i</text><text class="mono" font-size="43.02" transform="translate(140.93,-0.93) scale(0.884,1)">c</text><text class="mono" font-size="40.42" transform="translate(169.44,-3.67) scale(0.7458,1)">]</text></g>
<g id="y2label" fill="#f00" color="#f00" transform="translate(1569.36,959.42) rotate(-90)"><text class="sansi" font-size="44.91" transform="translate(0.3,-0.72) scale(0.9003,1)">E</text><text class="sans" font-size="29.36" transform="translate(28.99,6.49) scale(1.1254,1)">x</text><text class="mono" font-size="40.42" transform="translate(79.13,-3.48) scale(0.7458,1)">[</text><text class="sansi" font-size="43.51" transform="translate(102.43,-0.72) scale(1.134,1)">m</text><text class="sans" font-size="29.87" transform="translate(145.39,6.64) scale(1.075,1)">e</text><text class="sansi" font-size="43.81" transform="translate(165.93,-0.52) scale(1.0526,1)">cω</text><text class="sans" font-size="45.86" transform="translate(227.13,0.04) scale(1.1494,1)">/|</text><text class="sans" font-size="43.85" transform="translate(257.6,-0.52) scale(1.0609,1)">e</text><text class="sans" font-size="45.86" transform="translate(286.84,0.04) scale(0.8043,1)">|</text><text class="mono" font-size="40.42" transform="translate(303.25,-3.48) scale(0.7458,1)">]</text><text class="mono" font-size="47.1" transform="translate(353.63,-0.78) scale(0.9181,1)">&amp;</text><text class="sansi" font-size="43.51" transform="translate(407.45,-0.72) scale(1.0646,1)">n</text><text class="sans" font-size="29.87" transform="translate(435.21,6.64) scale(1.075,1)">e</text><text class="mono" font-size="40.37" transform="translate(459.21,-3.47) scale(0.8141,1)">(</text><text class="sansi" font-size="44.91" transform="translate(481.98,-0.72) scale(1.0664,1)">Z</text><text class="sansi" font-size="30.55" transform="translate(513.12,6.49) scale(0.9594,1)">i</text><text class="sansi" font-size="43.51" transform="translate(523.15,-0.72) scale(1.0646,1)">n</text><text class="sansi" font-size="30.55" transform="translate(551.18,6.49) scale(0.9594,1)">i</text><text class="mono" font-size="40.42" transform="translate(561.2,-3.48) scale(1.0553,1)">) [</text><text class="sansi" font-size="43.51" transform="translate(641.59,-0.72) scale(1.0646,1)">n</text><text class="sansi" font-size="29.87" transform="translate(669.38,6.64) scale(1.0682,1)">c</text><text class="mono" font-size="40.42" transform="translate(691.09,-3.48) scale(0.7458,1)">]</text></g>
<g id="cblabel" fill="#000" color="#000" transform="translate(1806.32,817.36) rotate(-90)"><text class="sansi" font-size="44.77" transform="translate(0.83,-0.74) scale(1.0327,1)">dN</text><text class="sans" font-size="40.88" transform="translate(61.89,-3.52) scale(1.1352,1)">/(</text><text class="sansi" font-size="44.53" transform="translate(94.58,-0.91) scale(1.1348,1)">dxdp</text><text class="sansi" font-size="29.36" transform="translate(205.83,6.31) scale(1.123,1)">x</text><text class="sans" font-size="40.88" transform="translate(228.31,-3.52) scale(0.8545,1)">)</text><text class="mono" font-size="40.42" transform="translate(273.34,-3.67) scale(0.7458,1)">[</text><text class="mono" font-size="46.49" transform="translate(296.92,-0.96) scale(0.9422,1)">A.U.</text><text class="mono" font-size="40.42" transform="translate(406.82,-3.67) scale(0.7458,1)">]</text></g>
<g id="xt0" fill="#000" color="#000"><text class="sans" font-size="56.64" transform="translate(273.9,1125.32) scale(1.0306,1)">15</text></g>
<g id="xt1" fill="#000" color="#000"><text class="sans" font-size="56.47" transform="translate(662.52,1125.3) scale(1.0423,1)">25</text></g>
<g id="xt2" fill="#000" color="#000"><text class="sans" font-size="57.61" transform="translate(1052.39,1126.09) scale(1.0075,1)">35</text></g>
<g id="xt3" fill="#000" color="#000"><text class="sans" font-size="57.04" transform="translate(1441.76,1125.6) scale(1.0278,1)">45</text></g>
<g id="yt0" fill="#000" color="#000"><text class="sans" font-size="57.9" transform="translate(205.62,1089.29) scale(1.0421,1)">0.0</text></g>
<g id="yt1" fill="#000" color="#000"><text class="sans" font-size="57.9" transform="translate(205.65,781.29) scale(1.0294,1)">0.5</text></g>
<g id="yt2" fill="#000" color="#000"><text class="sans" font-size="57.9" transform="translate(205.76,473.29) scale(1.0403,1)">1.0</text></g>
<g id="yt3" fill="#000" color="#000"><text class="sans" font-size="56.64" transform="translate(204.82,164.32) scale(1.0501,1)">1.5</text></g>
<g id="rt0" fill="#f00" color="#f00"><text class="sans" font-size="57.9" transform="translate(1492.76,1089.29) scale(0.9859,1)">0</text></g>
<g id="rt1" fill="#f00" color="#f00"><text class="sans" font-size="57.44" transform="translate(1492.21,903.87) scale(0.9459,1)">1</text></g>
<g id="rt2" fill="#f00" color="#f00"><text class="sans" font-size="56.96" transform="translate(1491.7,718.65) scale(0.9656,1)">2</text></g>
<g id="rt3" fill="#f00" color="#f00"><text class="sans" font-size="57.61" transform="translate(1492.52,535.09) scale(0.9487,1)">3</text></g>
<g id="rt4" fill="#f00" color="#f00"><text class="sans" font-size="57.85" transform="translate(1492.79,350.15) scale(0.988,1)">4</text></g>
<g id="rt5" fill="#f00" color="#f00"><text class="sans" font-size="56.61" transform="translate(1492.51,164.3) scale(0.9489,1)">5</text></g>
<g id="ct0" fill="#000" color="#000"><text class="sans" font-size="46.99" transform="translate(1693.36,1084.68) scale(1.0222,1)">0.0</text></g>
<g id="ct1" fill="#000" color="#000"><text class="sans" font-size="46.97" transform="translate(1693.39,899.67) scale(1.0093,1)">0.2</text></g>
<g id="ct2" fill="#000" color="#000"><text class="sans" font-size="46.97" transform="translate(1693.36,714.67) scale(1.0235,1)">0.4</text></g>
<g id="ct3" fill="#000" color="#000"><text class="sans" font-size="46.97" transform="translate(1693.34,529.67) scale(1.0304,1)">0.6</text></g>
<g id="ct4" fill="#000" color="#000"><text class="sans" font-size="46.99" transform="translate(1693.36,344.68) scale(1.0256,1)">0.8</text></g>
<g id="ct5" fill="#000" color="#000"><text class="sans" font-size="46.99" transform="translate(1693.58,160.68) scale(1.0188,1)">1.0</text></g>
<g id="lg0" fill="#000" color="#000"><text class="sansi" font-size="44.91" transform="translate(914.08,217.24) scale(0.9003,1)">E</text><text class="sansi" font-size="29.36" transform="translate(942.76,224.46) scale(1.123,1)">x</text></g>
<g id="lg1" fill="#000" color="#000"><text class="sansi" font-size="43.51" transform="translate(915.07,284.52) scale(1.0646,1)">n</text><text class="sansi" font-size="29.87" transform="translate(942.83,291.89) scale(1.0781,1)">e</text></g>
<g id="lg2" fill="#000" color="#000"><text class="sansi" font-size="44.91" transform="translate(914.52,349.24) scale(1.0664,1)">Z</text><text class="sansi" font-size="30.55" transform="translate(945.67,356.46) scale(0.9594,1)">i</text><text class="sansi" font-size="43.51" transform="translate(955.7,349.24) scale(1.0646,1)">n</text><text class="sansi" font-size="30.55" transform="translate(983.73,356.46) scale(0.9594,1)">i</text></g>
</g>
</svg>
</body></html>
